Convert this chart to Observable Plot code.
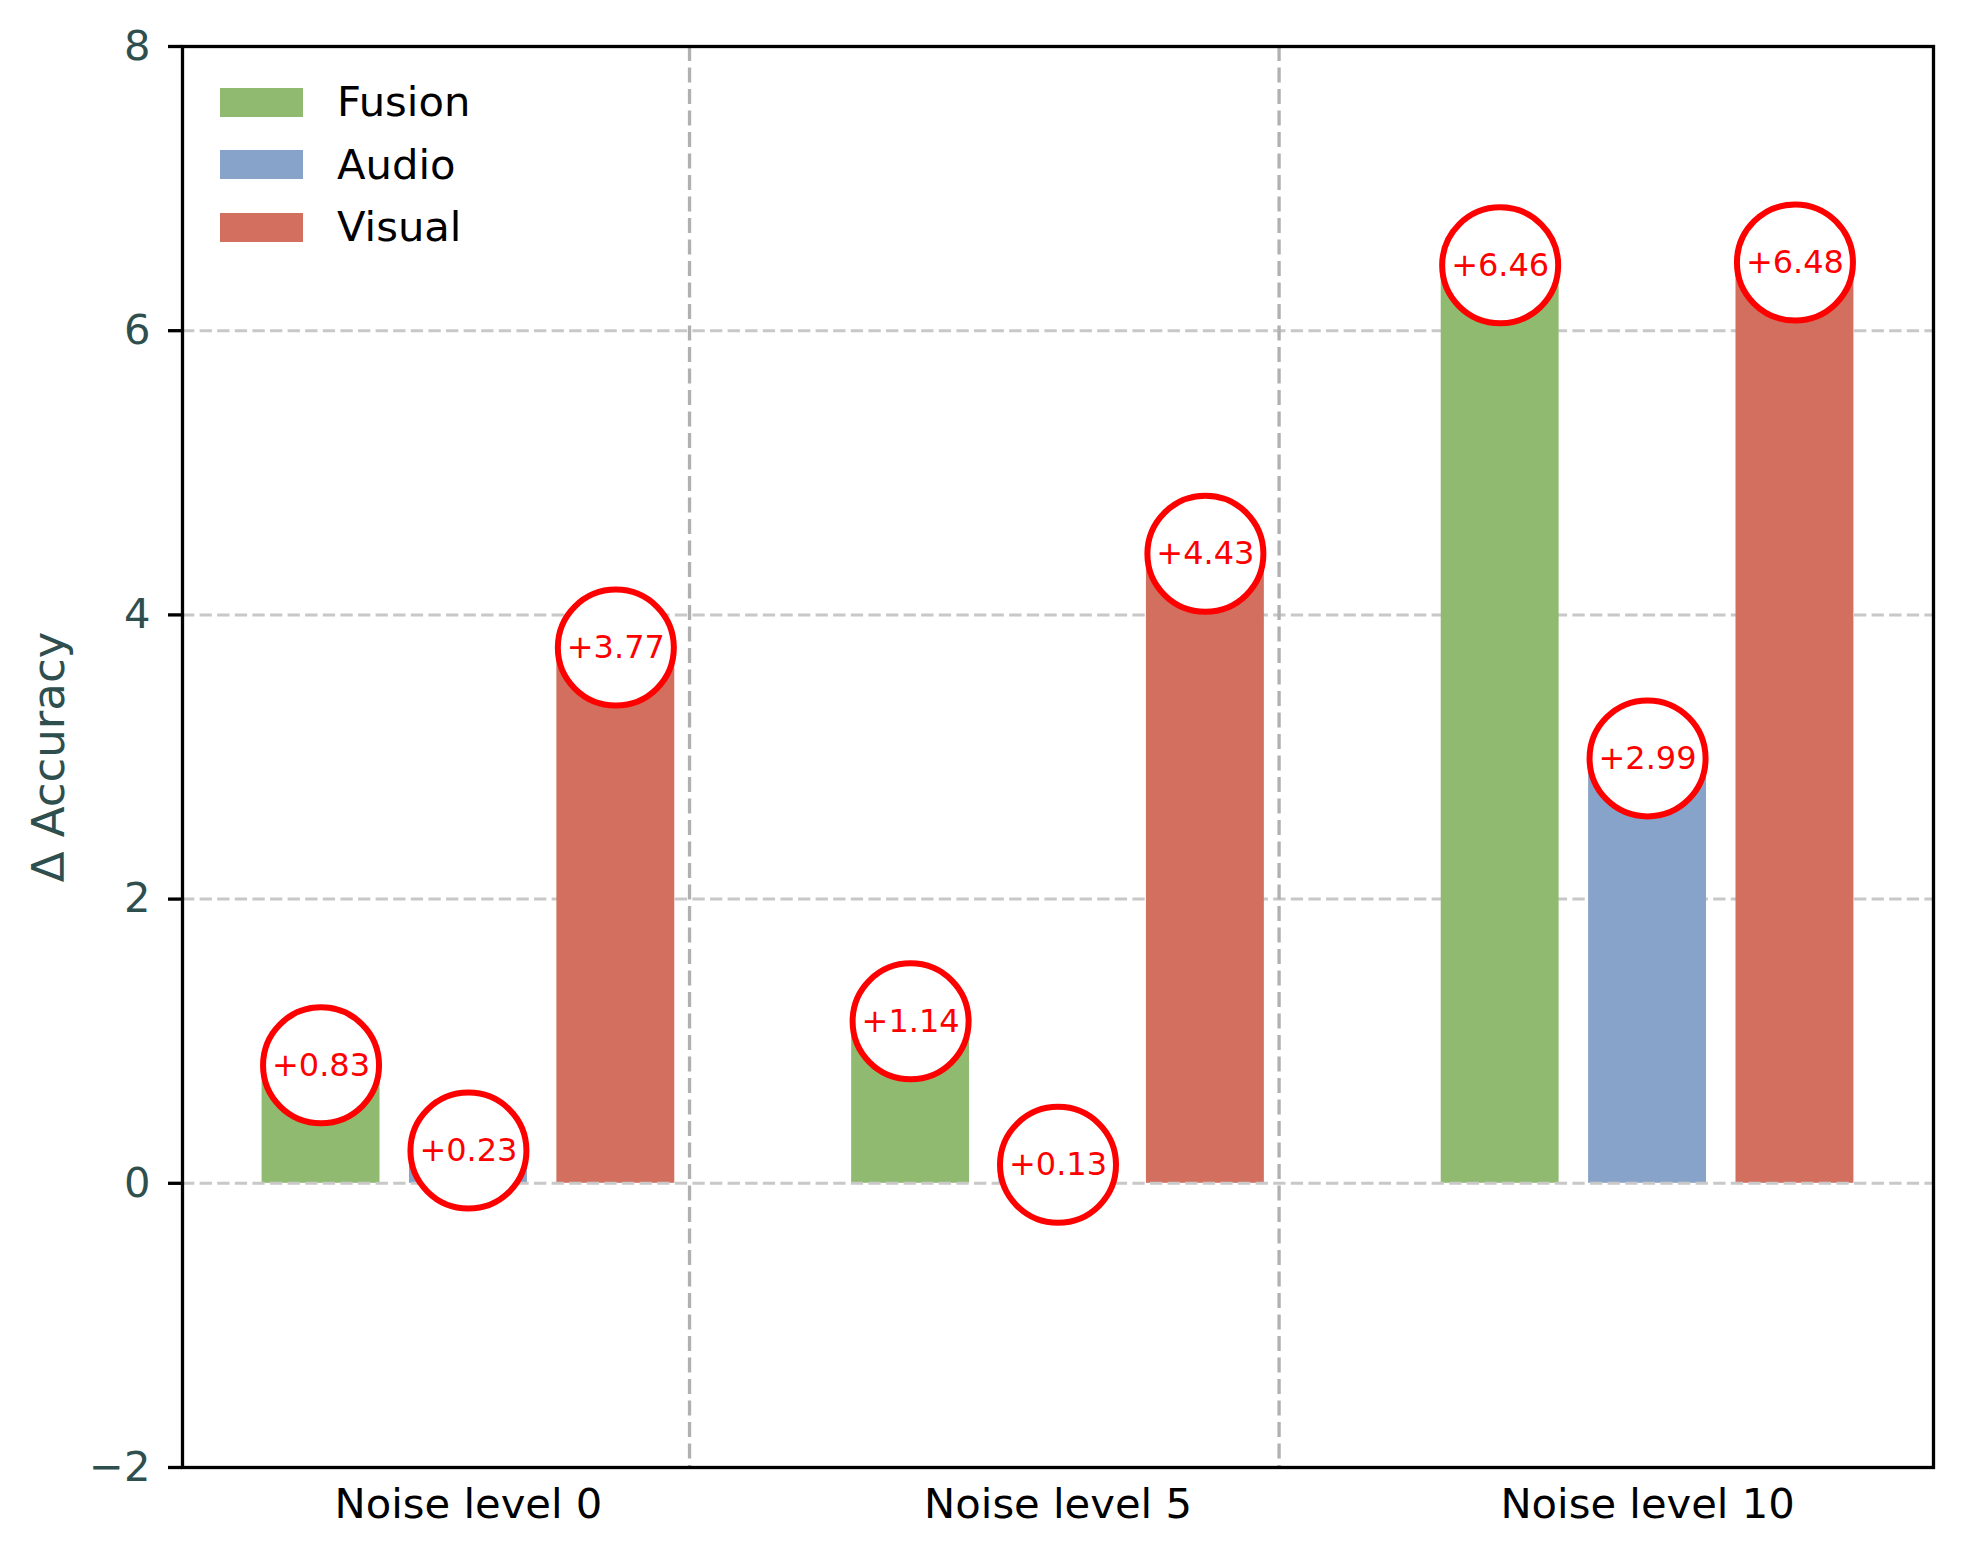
<!DOCTYPE html>
<html><head><meta charset="utf-8">
<script src="https://cdn.jsdelivr.net/npm/d3@7"></script>
<script src="https://cdn.jsdelivr.net/npm/@observablehq/plot@0.6"></script>
<style>
body{margin:0;background:#fff;}
#wrap{position:relative;width:1964px;height:1555px;font-family:"DejaVu Sans",sans-serif;}
#legend{position:absolute;left:220px;top:71px;}
.row{display:flex;align-items:center;height:62.5px;}
.sw{width:83px;height:29px;}
.lab{margin-left:34px;font-size:41.7px;color:#000;line-height:1;}
</style></head><body><div id="wrap"><div id="legend"></div></div>
<script>
const categories = ["Noise level 0", "Noise level 5", "Noise level 10"];
const series = ["Fusion", "Audio", "Visual"];
const fusion = [0.83, 1.14, 6.46];
const audio = [0.23, 0.13, 2.99];
const visual = [3.77, 4.43, 6.48];
const colors = ["#8fba6f", "#87a3c9", "#d36f5f"];
const yTicks = [-2, 0, 2, 4, 6, 8];
const yLabel = "Δ Accuracy";
const barWidth = 0.2, barStep = 0.25;

const values = [fusion, audio, visual];
const data = [];
series.forEach((s, si) => categories.forEach((c, ci) =>
  data.push({series: s, cat: c, value: values[si][ci], xc: ci + (si - 1) * barStep})));
const separators = categories.slice(0, -1).map((c, i) => i + 1.5 * barStep);
const xmin = d3.min(data, d => d.xc - barWidth / 2), xmax = d3.max(data, d => d.xc + barWidth / 2);
const pad = 0.05 * (xmax - xmin);

const gridStyle = {stroke: "#c8c8c8", strokeWidth: 3, strokeDasharray: "12.3,5.3"};

const chart = Plot.plot({
  width: 1964, height: 1555,
  marginLeft: 182, marginRight: 31, marginTop: 46, marginBottom: 88,
  style: {fontFamily: '"DejaVu Sans", sans-serif', background: "#fff", overflow: "visible"},
  x: {type: "linear", domain: [xmin - pad, xmax + pad]},
  y: {domain: [-2, 8]},
  color: {domain: series, range: colors},
  marks: [
    Plot.ruleY(yTicks.filter(v => v !== 0), gridStyle),
    Plot.ruleX(separators, {stroke: "#b0b0b0", strokeWidth: 3.3, strokeDasharray: "15,6.5"}),
    Plot.rectY(data, {x1: d => d.xc - barWidth / 2, x2: d => d.xc + barWidth / 2, y1: 0, y2: "value", fill: "series"}),
    Plot.ruleY([0], gridStyle),
    Plot.dot(data, {x: "xc", y: "value", r: 58, fill: "white", stroke: "red", strokeWidth: 6}),
    Plot.text(data, {x: "xc", y: "value", text: d => "+" + d.value.toFixed(2), fill: "red", fontSize: 32}),
    Plot.axisY({ticks: yTicks, tickSize: 14, tickPadding: 18, fontSize: 41.7, stroke: "black", fill: "#2f4f4f",
      strokeWidth: 3.3, label: null, tickFormat: d => d < 0 ? "\u2212" + Math.abs(d) : String(d)}),
    Plot.axisX({ticks: categories.map((c, i) => i), tickFormat: i => categories[i], tickSize: 0, tickPadding: 21,
      fontSize: 41.7, fill: "black", label: null}),
    Plot.text([yLabel], {text: d => d, frameAnchor: "left", rotate: -90, dx: -150, textAnchor: "middle",
      lineAnchor: "top", fontSize: 45, fill: "#2f4f4f"}),
    Plot.frame({stroke: "black", strokeWidth: 3.3})
  ]
});
const wrap = document.getElementById("wrap");
wrap.insertBefore(chart, wrap.firstChild);

const legend = document.getElementById("legend");
series.forEach((s, i) => {
  const row = document.createElement("div");
  row.className = "row";
  const sw = document.createElement("div");
  sw.className = "sw"; sw.style.background = colors[i];
  const lab = document.createElement("div");
  lab.className = "lab"; lab.textContent = s;
  row.appendChild(sw); row.appendChild(lab);
  legend.appendChild(row);
});
</script></body></html>
